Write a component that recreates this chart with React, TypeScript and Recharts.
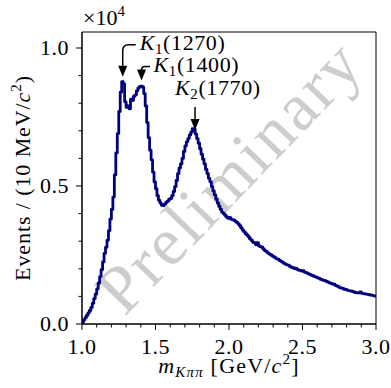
import React from "react"
import { LineChart, Line, XAxis, YAxis, ReferenceDot, ReferenceArea } from "recharts"

// 10 MeV bins from 1.00 to 3.00 GeV/c^2, counts per bin
const binStart = 1.0
const binWidth = 0.01
const counts = [
  60, 150, 230, 310, 400, 490, 600, 750, 920, 1080,
  1270, 1480, 1720, 1970, 2250, 2560, 2780, 3030, 3380, 3800,
  4150, 4600, 5400, 6200, 6900, 7700, 8400, 8780, 8700, 8050,
  7850, 7900, 7800, 8150, 8100, 8250, 8300, 8450, 8550, 8600,
  8620, 8580, 8350, 7900, 7300, 6750, 6300, 5950, 5500, 5150,
  4900, 4650, 4480, 4380, 4300, 4290, 4340, 4410, 4450, 4520,
  4550, 4650, 4800, 4980, 5200, 5450, 5650, 5800, 6000, 6250,
  6450, 6600, 6720, 6850, 6950, 7080, 7050, 6880, 6720, 6550,
  6350, 6150, 5970, 5800, 5600, 5450, 5280, 5150, 4980, 4820,
  4680, 4520, 4380, 4260, 4150, 4050, 4000, 3940, 3880, 3830,
  3860, 3800, 3780, 3760, 3720, 3680, 3630, 3560, 3480, 3400,
  3340, 3270, 3220, 3160, 3080, 3030, 2960, 2950, 2880, 2950,
  2830, 2800, 2780, 2720, 2660, 2630, 2580, 2540, 2510, 2470,
  2440, 2400, 2360, 2350, 2300, 2270, 2240, 2200, 2170, 2140,
  2130, 2090, 2060, 2040, 2010, 2020, 1980, 1950, 1940, 1920,
  1930, 1880, 1860, 1840, 1810, 1790, 1760, 1740, 1720, 1700,
  1670, 1650, 1620, 1600, 1580, 1570, 1540, 1520, 1490, 1470,
  1450, 1440, 1400, 1380, 1350, 1320, 1300, 1290, 1260, 1250,
  1230, 1210, 1200, 1190, 1170, 1150, 1140, 1130, 1130, 1160,
  1110, 1100, 1090, 1080, 1070, 1060, 1050, 1040, 1030, 1010,
]

const xTicks = [1.0, 1.1, 1.2, 1.3, 1.4, 1.5, 1.6, 1.7, 1.8, 1.9, 2.0, 2.1, 2.2, 2.3, 2.4, 2.5, 2.6, 2.7, 2.8, 2.9, 3.0]
const xMajor = [1.0, 1.5, 2.0, 2.5, 3.0]
const yTicks = [0, 1000, 2000, 3000, 4000, 5000, 6000, 7000, 8000, 9000, 10000]
const yMajor = [0, 5000, 10000]
const yMax = 10580

// resonance labels, arrow tip at (mass, events)
const peakNames = ["K", "K", "K"]
const peakSubs = ["1", "1", "2"]
const peakMasses = ["(1270)", "(1400)", "(1770)"]
const peakX = [1.277, 1.405, 1.769]
const peakY = [8960, 8820, 7030]

// step histogram: point at every lower bin edge + closing edge
const data = counts.map((n, i) => ({ m: +(binStart + i * binWidth).toFixed(2), n }))
data.push({ m: 3.0, n: counts[counts.length - 1] })

const FONT = "'Liberation Serif', 'DejaVu Serif', serif"
const txt = { fontFamily: FONT, fontSize: 22 }
const small = { fontSize: 15 }

const isMajor = (v: number, list: number[]) => list.some((t) => Math.abs(t - v) < 1e-6)

const XTick = ({ x, y, payload }: any) => {
  const major = isMajor(payload.value, xMajor)
  return (
    <g>
      <line x1={x} x2={x} y1={y} y2={y + (major ? 6 : 3.5)} stroke="#000" strokeWidth={1} />
      {major && (
        <text x={x} y={y + 30} textAnchor="middle" style={{ ...txt, letterSpacing: 0.5 }} fill="#000">
          {payload.value.toFixed(1)}
        </text>
      )}
    </g>
  )
}

const YTick = ({ x, y, payload }: any) => {
  const major = isMajor(payload.value, yMajor)
  return (
    <g>
      <line x1={x} x2={x - (major ? 6 : 3.5)} y1={y} y2={y} stroke="#000" strokeWidth={1} />
      {major && (
        <text x={x - 13} y={y + 7} textAnchor="end" style={{ ...txt, letterSpacing: 0.5 }} fill="#000">
          {(payload.value / 10000).toFixed(1)}
        </text>
      )}
    </g>
  )
}

const XLabel = ({ viewBox }: any) => {
  const cx = viewBox.x + viewBox.width / 2
  return (
    <text x={cx} y={viewBox.y + 49} textAnchor="middle" style={{ ...txt, letterSpacing: 1.2 }} fill="#000">
      <tspan fontStyle="italic">m</tspan>
      <tspan fontStyle="italic" style={small} dy={4}>K&#960;&#960;</tspan>
      <tspan dy={-4}>{"  [GeV/"}</tspan>
      <tspan fontStyle="italic">c</tspan>
      <tspan style={small} dy={-9}>2</tspan>
      <tspan dy={9}>]</tspan>
    </text>
  )
}

const YLabel = ({ viewBox }: any) => {
  const cy = viewBox.y + viewBox.height / 2
  return (
    <g>
      <text
        x={30}
        y={cy}
        transform={`rotate(-90 30 ${cy})`}
        textAnchor="middle"
        style={{ ...txt, letterSpacing: 0.9 }}
        fill="#000"
      >
        Events / (10 MeV/
        <tspan fontStyle="italic">c</tspan>
        <tspan style={small} dy={-9}>2</tspan>
        <tspan dy={9}>)</tspan>
      </text>
      <text x={viewBox.x + viewBox.width + 1} y={25} style={txt} fill="#000">
        &#215;10
        <tspan style={small} dy={-9}>4</tspan>
      </text>
    </g>
  )
}

const Arrow = ({ cx, cy, i }: any) => {
  let path = ""
  let tx = 0
  let ty = 0
  if (i === 0) {
    path = `M${cx},${cy - 11} L${cx},${cy - 26} Q${cx},${cy - 32} ${cx + 6},${cy - 32} L${cx + 13},${cy - 32}`
    tx = cx + 17
    ty = cy - 27
  } else if (i === 1) {
    path = `M${cx},${cy - 10} L${cx},${cy - 10.5} Q${cx},${cy - 14} ${cx + 3.5},${cy - 14} L${cx + 8.5},${cy - 14}`
    tx = cx + 12
    ty = cy - 8.5
  } else {
    path = `M${cx},${cy - 11} L${cx},${cy - 23}`
    tx = cx - 20
    ty = cy - 35
  }
  return (
    <g>
      <path d={path} fill="none" stroke="#000" strokeWidth={1.5} />
      <polygon points={`${cx},${cy} ${cx - 4.5},${cy - 11} ${cx + 4.5},${cy - 11}`} fill="#000" />
      <text x={tx} y={ty} style={{ ...txt, letterSpacing: 0.6 }} fill="#000">
        <tspan fontStyle="italic">{peakNames[i]}</tspan>
        <tspan style={small} dy={4}>{peakSubs[i]}</tspan>
        <tspan dy={-4}>{peakMasses[i]}</tspan>
      </text>
    </g>
  )
}

export default function App() {
  return (
    <div style={{ position: "absolute", left: 0, top: 0, width: 391, height: 388, background: "#fff" }}>
      {/* watermark sits under the chart surface */}
      <svg width={391} height={388} style={{ position: "absolute", left: 0, top: 0 }}>
        <text
          x={229}
          y={176}
          transform="rotate(-46 229 176)"
          textAnchor="middle"
          dominantBaseline="central"
          style={{ fontFamily: FONT, fontSize: 68, letterSpacing: 2.5 }}
          fill="#cdcdcd"
        >
          Preliminary
        </text>
      </svg>
      <div style={{ position: "absolute", left: 0, top: 0 }}>
        <LineChart width={391} height={388} data={data} margin={{ top: 32, right: 15, bottom: 0, left: 0 }}>
          <XAxis
            dataKey="m"
            type="number"
            domain={[1, 3]}
            ticks={xTicks}
            interval={0}
            height={64}
            tickSize={0}
            tickMargin={0}
            tickLine={false}
            axisLine={{ stroke: "#000" }}
            tick={(p: any) => <XTick {...p} />}
            label={{ content: (p: any) => <XLabel {...p} /> }}
          />
          <YAxis
            type="number"
            domain={[0, yMax]}
            ticks={yTicks}
            interval={0}
            width={82}
            tickSize={0}
            tickMargin={0}
            tickLine={false}
            axisLine={{ stroke: "#000" }}
            tick={(p: any) => <YTick {...p} />}
            label={{ content: (p: any) => <YLabel {...p} /> }}
          />
          <ReferenceArea x1={1} x2={3} y1={0} y2={yMax} fill="none" stroke="#000" strokeWidth={1} />
          <Line
            dataKey="n"
            type="stepAfter"
            stroke="#000080"
            strokeWidth={2.8}
            strokeLinejoin="round"
            dot={false}
            activeDot={false}
            isAnimationActive={false}
          />
          {peakX.map((px, i) => (
            <ReferenceDot
              key={i}
              x={px}
              y={peakY[i]}
              r={0}
              ifOverflow="visible"
              shape={(p: any) => <Arrow {...p} i={i} />}
            />
          ))}
        </LineChart>
      </div>
    </div>
  )
}
